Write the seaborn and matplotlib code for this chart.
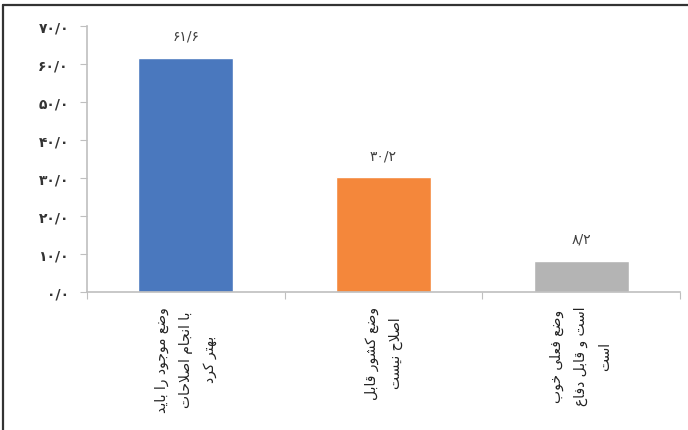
import matplotlib
matplotlib.use("Agg")
import matplotlib.pyplot as plt
from matplotlib.lines import Line2D
import seaborn as sns

# داده‌ها
categories = ["وضع موجود را باید\nبا انجام اصلاحات\nبهتر کرد",
              "وضع کشور قابل\nاصلاح نیست",
              "وضع فعلی خوب\nاست و قابل دفاع\nاست"]
values = [61.6, 30.2, 8.2]
colors = ["#4a78be", "#f4873b", "#b4b4b4"]
y_ticks = [0, 10, 20, 30, 40, 50, 60, 70]

# شکل‌دهی ساده حروف عربی/فارسی (matplotlib این کار را انجام نمی‌دهد)
FORMS = {
    "ا": ("\uFE8D", "\uFE8E", None, None),
    "ب": ("\uFE8F", "\uFE90", "\uFE91", "\uFE92"),
    "ت": ("\uFE95", "\uFE96", "\uFE97", "\uFE98"),
    "ج": ("\uFE9D", "\uFE9E", "\uFE9F", "\uFEA0"),
    "ح": ("\uFEA1", "\uFEA2", "\uFEA3", "\uFEA4"),
    "خ": ("\uFEA5", "\uFEA6", "\uFEA7", "\uFEA8"),
    "د": ("\uFEA9", "\uFEAA", None, None),
    "ر": ("\uFEAD", "\uFEAE", None, None),
    "س": ("\uFEB1", "\uFEB2", "\uFEB3", "\uFEB4"),
    "ش": ("\uFEB5", "\uFEB6", "\uFEB7", "\uFEB8"),
    "ص": ("\uFEB9", "\uFEBA", "\uFEBB", "\uFEBC"),
    "ض": ("\uFEBD", "\uFEBE", "\uFEBF", "\uFEC0"),
    "ع": ("\uFEC9", "\uFECA", "\uFECB", "\uFECC"),
    "ف": ("\uFED1", "\uFED2", "\uFED3", "\uFED4"),
    "ق": ("\uFED5", "\uFED6", "\uFED7", "\uFED8"),
    "ل": ("\uFEDD", "\uFEDE", "\uFEDF", "\uFEE0"),
    "م": ("\uFEE1", "\uFEE2", "\uFEE3", "\uFEE4"),
    "ن": ("\uFEE5", "\uFEE6", "\uFEE7", "\uFEE8"),
    "ه": ("\uFEE9", "\uFEEA", "\uFEEB", "\uFEEC"),
    "و": ("\uFEED", "\uFEEE", None, None),
    "ی": ("\uFBFC", "\uFBFD", "\uFBFE", "\uFBFF"),
    "ک": ("\uFB8E", "\uFB8F", "\uFB90", "\uFB91"),
    "LA": ("\uFEFB", "\uFEFC", None, None),
}


def shape_line(line):
    # ligature lam-alef
    chars = []
    i = 0
    while i < len(line):
        if line[i] == "ل" and i + 1 < len(line) and line[i + 1] == "ا":
            chars.append("LA")
            i += 2
        else:
            chars.append(line[i])
            i += 1

    def joins_next(c):
        return c in FORMS and FORMS[c][2] is not None

    out = []
    for k, c in enumerate(chars):
        if c not in FORMS:
            out.append(c)
            continue
        prev_j = k > 0 and joins_next(chars[k - 1])
        next_j = joins_next(c) and k + 1 < len(chars) and chars[k + 1] in FORMS
        iso, fin, ini, med = FORMS[c]
        if prev_j and next_j:
            out.append(med)
        elif prev_j:
            out.append(fin)
        elif next_j:
            out.append(ini)
        else:
            out.append(iso)
    return "".join(out)[::-1]


def shape(text):
    return "\n".join(shape_line(l) for l in text.split("\n"))


def fa_num(v):
    s = f"{v:.1f}".replace(".", "/")
    return s.translate(str.maketrans("0123456789", "۰۱۲۳۴۵۶۷۸۹"))


sns.set_style("white")
plt.rcParams['font.family'] = ['DejaVu Sans']

fig = plt.figure(figsize=(6.88, 4.31), dpi=100)
ax = fig.add_axes([87 / 688, 1 - 293 / 431, (680 - 87) / 688, (293 - 27) / 431])

sns.barplot(x=list(range(len(values))), y=values, hue=list(range(len(values))),
            palette=colors, legend=False, width=0.48, saturation=1, ax=ax)

ax.set_xlim(-0.5, len(values) - 0.5)
ax.set_ylim(0, 70)
ax.set_yticks(y_ticks)
ax.set_yticklabels([fa_num(t) for t in y_ticks], fontsize=10, fontweight="bold", color="#333333")
ax.set_xticks([i - 0.5 for i in range(len(values) + 1)])
ax.set_xticklabels([])
ax.tick_params(axis="y", length=5, color="#bfbfbf", pad=8, left=True)
ax.tick_params(axis="x", length=5, color="#bfbfbf", bottom=True)
for s in ["top", "right"]:
    ax.spines[s].set_visible(False)
for s in ["left", "bottom"]:
    ax.spines[s].set_color("#bfbfbf")
    ax.spines[s].set_linewidth(1.2)
ax.set_xlabel("")
ax.set_ylabel("")

# برچسب مقادیر
for i, v in enumerate(values):
    ax.annotate(fa_num(v), (i, v), xytext=(0, 22), textcoords="offset pixels",
                ha="center", va="center", fontsize=10, color="#404040")

# برچسب دسته‌ها (عمودی)
for i, c in enumerate(categories):
    ax.annotate(shape(c), (i, 0), xycoords=("data", "axes fraction"),
                xytext=(0, -14), textcoords="offset pixels",
                rotation=90, ha="center", va="top", ma="center",
                fontsize=10, linespacing=1.9, color="#222222")

# قاب بیرونی
fig.add_artist(Line2D([3 / 688, 1], [1 - 6 / 431, 1 - 6 / 431], transform=fig.transFigure, color="#333333", lw=1.6))
fig.add_artist(Line2D([3 / 688, 3 / 688], [0, 1 - 6 / 431], transform=fig.transFigure, color="#333333", lw=1.6))

fig.savefig("out.png", dpi=100)
